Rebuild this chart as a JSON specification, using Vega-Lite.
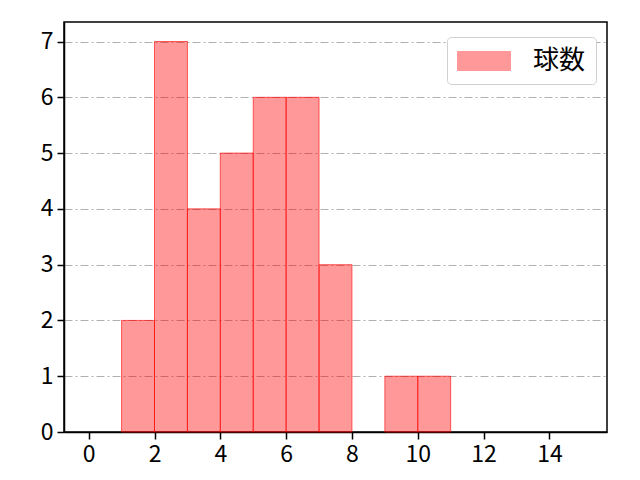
{
  "$schema": "https://vega.github.io/schema/vega-lite/v6.json",
  "width": 543,
  "height": 410,
  "autosize": "none",
  "padding": {"left": 64, "top": 22, "right": 33, "bottom": 48},
  "data": {
    "values": [
      {"start": 1, "end": 2, "count": 2},
      {"start": 2, "end": 3, "count": 7},
      {"start": 3, "end": 4, "count": 4},
      {"start": 4, "end": 5, "count": 5},
      {"start": 5, "end": 6, "count": 6},
      {"start": 6, "end": 7, "count": 6},
      {"start": 7, "end": 8, "count": 3},
      {"start": 9, "end": 10, "count": 1},
      {"start": 10, "end": 11, "count": 1}
    ]
  },
  "mark": {"type": "bar", "fillOpacity": 0.4, "stroke": "#ff0000", "strokeWidth": 1, "strokeOpacity": 0.6},
  "encoding": {
    "x": {
      "field": "start",
      "type": "quantitative",
      "scale": {"domain": [-0.75, 15.75], "nice": false, "zero": false},
      "axis": {"title": null, "values": [0, 2, 4, 6, 8, 10, 12, 14], "grid": false}
    },
    "x2": {"field": "end"},
    "y": {
      "field": "count",
      "type": "quantitative",
      "scale": {"domain": [0, 7.35], "nice": false},
      "axis": {
        "title": null,
        "values": [0, 1, 2, 3, 4, 5, 6, 7],
        "grid": true,
        "gridColor": "#b0b0b0",
        "gridDash": [8, 3, 2, 3],
        "gridWidth": 1
      }
    },
    "y2": {"datum": 0},
    "color": {
      "datum": "球数",
      "type": "nominal",
      "scale": {"range": ["#ff0000"]},
      "legend": {
        "title": null,
        "orient": "none",
        "legendX": 383,
        "legendY": 15,
        "symbolType": "M-2,-0.717h4v1.434h-4z",
        "symbolSize": 702,
        "symbolOffset": 13,
        "symbolOpacity": 0.4,
        "symbolStrokeColor": "#ff0000",
        "symbolStrokeWidth": 1,
        "labelFontSize": 26,
        "labelOffset": 35,
        "padding": 10,
        "strokeColor": "#d0d0d0",
        "cornerRadius": 4,
        "fillColor": "white"
      }
    }
  },
  "config": {
    "font": "Noto Sans CJK JP",
    "view": {"stroke": "black", "strokeWidth": 1.5},
    "axis": {
      "domainColor": "black",
      "domainWidth": 1.5,
      "tickColor": "black",
      "tickWidth": 1.5,
      "tickSize": 7,
      "labelFontSize": 23,
      "labelColor": "black",
      "labelPadding": 4
    },
    "legend": {"labelColor": "black"}
  }
}
